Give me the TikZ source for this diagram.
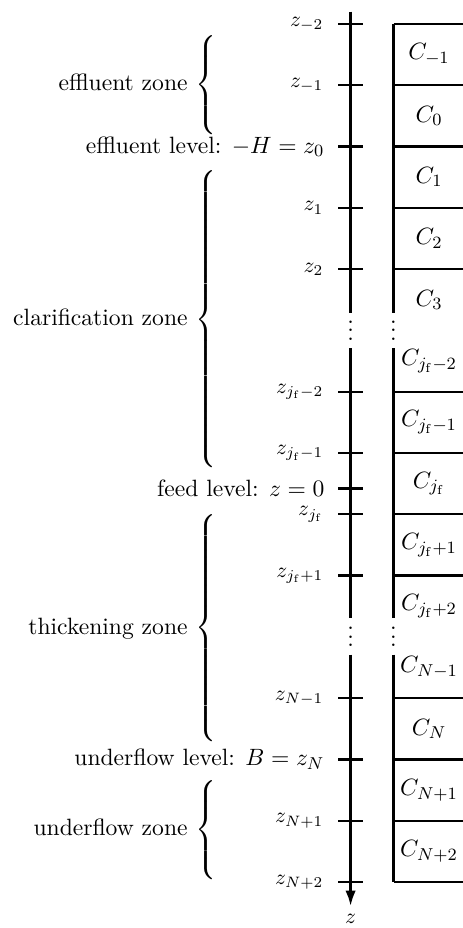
\documentclass[tikz,border=0pt,11pt]{standalone}
\usepackage{amsmath}
\usepackage{tikz}
\usetikzlibrary{positioning,arrows.meta}

\begin{document}
\begin{tikzpicture}[
    axisline/.style={line width=1.4pt},
    wall/.style={line width=1.4pt},
    cellline/.style={line width=1pt},
    smalltick/.style={line width=1pt},
    bigtick/.style={line width=1.7pt},
    zlbl/.style={anchor=east, font=\small, inner sep=0pt},
    levellbl/.style={anchor=east, inner sep=0pt},
    zonelbl/.style={anchor=east, inner sep=0pt},
    celllbl/.style={inner sep=0pt},
    dotslbl/.style={inner sep=0pt, yshift=3pt},
    arrow/.style={-{Latex[length=2.6mm,width=1.7mm]}, line width=1.4pt}
]
\useasboundingbox (0,0.39) rectangle (7.54,-14.75);

% z axis at x=5.72, broken at the dots
\draw[axisline] (5.72,0.2)    -- (5.72,-4.71);
\draw[axisline] (5.72,-5.29)  -- (5.72,-9.69);
\draw[arrow]    (5.72,-10.29) -- (5.72,-14.4);
\node[dotslbl]       at (5.72,-5)    (adots1) {$\vdots$};
\node[dotslbl]       at (5.72,-10)   (adots2) {$\vdots$};
\node[font=\small]   at (5.72,-14.6) (zname)  {$z$};

% ticks
\draw[smalltick] (5.52,0)     -- (5.92,0);
\draw[smalltick] (5.52,-1)    -- (5.92,-1);
\draw[bigtick]   (5.52,-2)    -- (5.92,-2);
\draw[smalltick] (5.52,-3)    -- (5.92,-3);
\draw[smalltick] (5.52,-4)    -- (5.92,-4);
\draw[smalltick] (5.52,-6)    -- (5.92,-6);
\draw[smalltick] (5.52,-7)    -- (5.92,-7);
\draw[bigtick]   (5.52,-7.58) -- (5.92,-7.58);
\draw[smalltick] (5.52,-8)    -- (5.92,-8);
\draw[smalltick] (5.52,-9)    -- (5.92,-9);
\draw[smalltick] (5.52,-11)   -- (5.92,-11);
\draw[bigtick]   (5.52,-12)   -- (5.92,-12);
\draw[smalltick] (5.52,-13)   -- (5.92,-13);
\draw[smalltick] (5.52,-14)   -- (5.92,-14);

% tick labels
\node[zlbl] at (5.28,0)   (zm2)   {$z_{-2}$};
\node[zlbl] at (5.28,-1)  (zm1)   {$z_{-1}$};
\node[zlbl] at (5.28,-3)  (z1)    {$z_1$};
\node[zlbl] at (5.28,-4)  (z2)    {$z_2$};
\node[zlbl] at (5.28,-6)  (zjfm2) {$z_{j_{\mathrm{f}}-2}$};
\node[zlbl] at (5.28,-7)  (zjfm1) {$z_{j_{\mathrm{f}}-1}$};
\node[zlbl] at (5.28,-8)  (zjf)   {$z_{j_{\mathrm{f}}}$};
\node[zlbl] at (5.28,-9)  (zjfp1) {$z_{j_{\mathrm{f}}+1}$};
\node[zlbl] at (5.28,-11) (zNm1)  {$z_{N-1}$};
\node[zlbl] at (5.28,-13) (zNp1)  {$z_{N+1}$};
\node[zlbl] at (5.28,-14) (zNp2)  {$z_{N+2}$};

% levels
\node[levellbl] at (5.3,-2)    (efflevel)  {effluent level: $-H = z_0$};
\node[levellbl] at (5.3,-7.58) (feedlevel) {feed level: $z = 0$};
\node[levellbl] at (5.3,-12)   (undlevel)  {underflow level: $B = z_N$};

% zones
\node[zonelbl] at (3.58,-1.0)   (effzone) {effluent zone $\left\{\rule[-0.725cm]{0pt}{1.45cm}\right.$};
\node[zonelbl] at (3.58,-4.84)  (clazone) {clarification zone $\left\{\rule[-2.365cm]{0pt}{4.73cm}\right.$};
\node[zonelbl] at (3.58,-9.87)  (thizone) {thickening zone $\left\{\rule[-1.775cm]{0pt}{3.55cm}\right.$};
\node[zonelbl] at (3.58,-13.15) (undzone) {underflow zone $\left\{\rule[-0.7cm]{0pt}{1.4cm}\right.$};

% cell column
\draw[wall] (6.42,0)      -- (6.42,-4.71);
\draw[wall] (6.42,-5.29)  -- (6.42,-9.69);
\draw[wall] (6.42,-10.29) -- (6.42,-14);
\node[dotslbl] at (6.42,-5)  (cdots1) {$\vdots$};
\node[dotslbl] at (6.42,-10) (cdots2) {$\vdots$};
\draw[cellline] (6.42,0)   -- (7.6,0);
\draw[cellline] (6.42,-1)  -- (7.6,-1);
\draw[cellline] (6.42,-2)  -- (7.6,-2);
\draw[cellline] (6.42,-3)  -- (7.6,-3);
\draw[cellline] (6.42,-4)  -- (7.6,-4);
\draw[cellline] (6.42,-6)  -- (7.6,-6);
\draw[cellline] (6.42,-7)  -- (7.6,-7);
\draw[cellline] (6.42,-8)  -- (7.6,-8);
\draw[cellline] (6.42,-9)  -- (7.6,-9);
\draw[cellline] (6.42,-11) -- (7.6,-11);
\draw[cellline] (6.42,-12) -- (7.6,-12);
\draw[cellline] (6.42,-13) -- (7.6,-13);
\draw[cellline] (6.42,-14) -- (7.6,-14);

% cell labels
\node[celllbl] at (7,-0.5)  (cm1)   {$C_{-1}$};
\node[celllbl] at (7,-1.5)  (c0)    {$C_0$};
\node[celllbl] at (7,-2.5)  (c1)    {$C_1$};
\node[celllbl] at (7,-3.5)  (c2)    {$C_2$};
\node[celllbl] at (7,-4.5)  (c3)    {$C_3$};
\node[celllbl] at (7,-5.5)  (cjfm2) {$C_{j_{\mathrm{f}}-2}$};
\node[celllbl] at (7,-6.5)  (cjfm1) {$C_{j_{\mathrm{f}}-1}$};
\node[celllbl] at (7,-7.5)  (cjf)   {$C_{j_{\mathrm{f}}}$};
\node[celllbl] at (7,-8.5)  (cjfp1) {$C_{j_{\mathrm{f}}+1}$};
\node[celllbl] at (7,-9.5)  (cjfp2) {$C_{j_{\mathrm{f}}+2}$};
\node[celllbl] at (7,-10.5) (cNm1)  {$C_{N-1}$};
\node[celllbl] at (7,-11.5) (cN)    {$C_N$};
\node[celllbl] at (7,-12.5) (cNp1)  {$C_{N+1}$};
\node[celllbl] at (7,-13.5) (cNp2)  {$C_{N+2}$};
\end{tikzpicture}
\end{document}
